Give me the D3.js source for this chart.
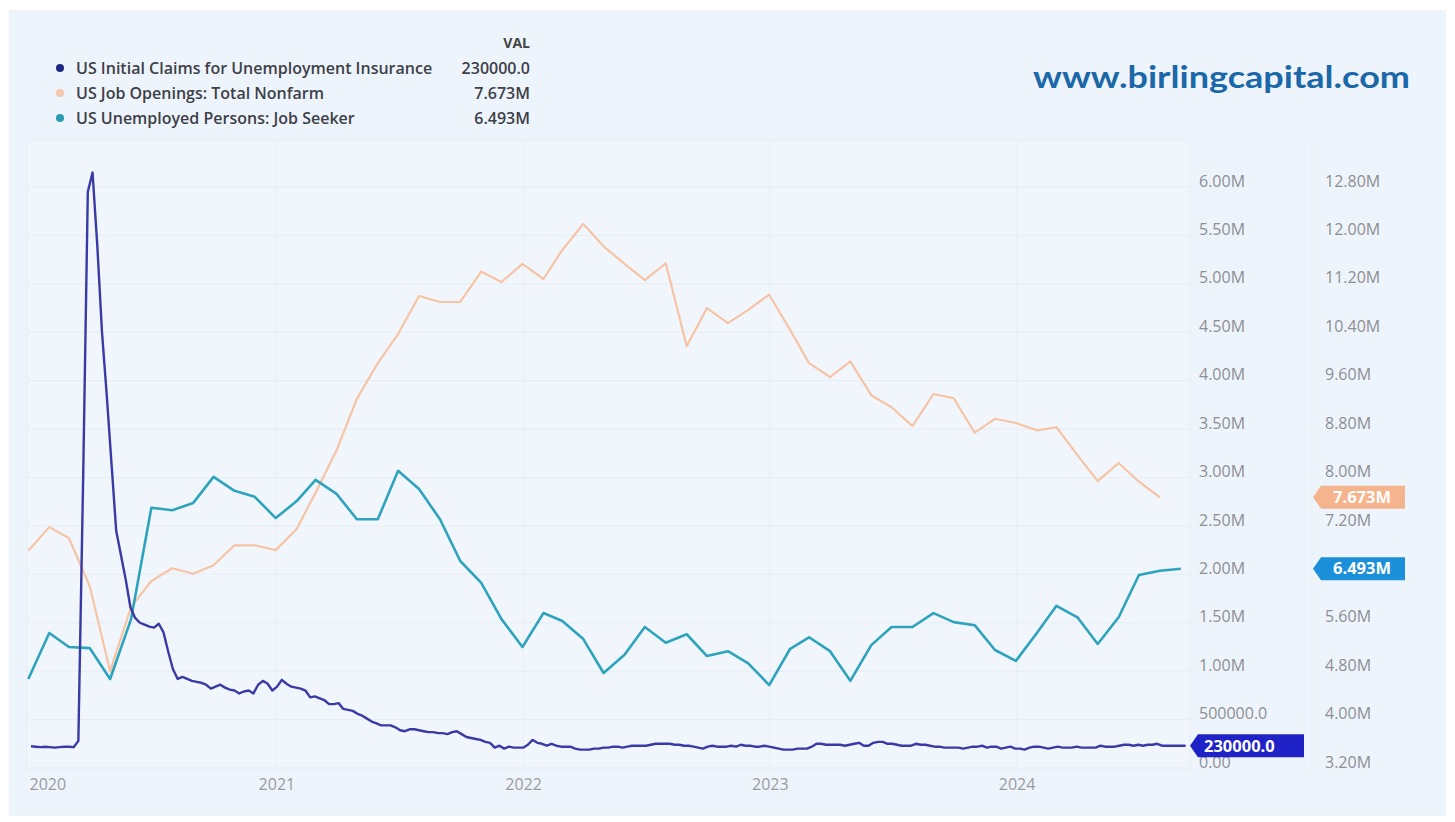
<!DOCTYPE html>
<html><head><meta charset="utf-8">
<script src="https://cdn.jsdelivr.net/npm/d3@7"></script>
<style>
body{margin:0;background:#ffffff;}
svg{display:block;font-family:"Open Sans",Roboto,"Noto Sans",Arial,sans-serif;}
</style>
</head><body>
<svg id="chart" width="1455" height="822"></svg>
<script>
// ---------------- DATA ----------------
const seriesNames = [
  "US Initial Claims for Unemployment Insurance",
  "US Job Openings: Total Nonfarm",
  "US Unemployed Persons: Job Seeker"
];
const legendValues = ["230000.0", "7.673M", "6.493M"];
const yearLabels = ["2020", "2021", "2022", "2023", "2024"];
const leftTickValues = [0, 0.5, 1, 1.5, 2, 2.5, 3, 3.5, 4, 4.5, 5, 5.5, 6];
const leftTickLabels = ["0.00","500000.0","1.00M","1.50M","2.00M","2.50M","3.00M","3.50M","4.00M","4.50M","5.00M","5.50M","6.00M"];
const rightTickValues = [3.2, 4.0, 4.8, 5.6, 6.4, 7.2, 8.0, 8.8, 9.6, 10.4, 11.2, 12.0, 12.8];
const rightTickLabels = ["3.20M","4.00M","4.80M","5.60M","","7.20M","8.00M","8.80M","9.60M","10.40M","11.20M","12.00M","12.80M"];

// Weekly initial claims (millions), weeks ending Saturday, starting 2020-01-04
const claims2020 = [0.225,0.22,0.215,0.22,0.215,0.21,0.215,0.22,0.22,0.215,
  0.28,2.95,5.95,6.15,5.4,4.5,3.85,3.15,2.45,2.2,1.95,1.66,1.55,1.5,1.48,1.46,
  1.45,1.49,1.40,1.20,1.02,0.92,0.94,0.92,0.90,0.89,0.88,0.86,0.82,0.84,0.86,0.83,
  0.81,0.80,0.77,0.79,0.80,0.77,0.86,0.90,0.87,0.80];
const claims2021 = [0.84,0.91,0.87,0.84,0.83,0.82,0.80,0.73,0.74,0.72,0.70,0.66,0.66,
  0.67,0.61,0.60,0.59,0.56,0.54,0.51,0.48,0.46,0.44,0.44,0.44,0.42,0.39,0.38,0.40,0.40,
  0.39,0.38,0.37,0.37,0.36,0.36,0.35,0.37,0.38,0.35,0.32,0.31,0.30,0.29,0.27,0.26,0.21,
  0.23,0.20,0.22,0.21,0.21];
const claims2022 = [0.21,0.24,0.29,0.26,0.25,0.23,0.25,0.23,0.22,0.22,0.22,0.20,0.19,
  0.19,0.19,0.20,0.20,0.21,0.21,0.22,0.22,0.21,0.22,0.23,0.23,0.23,0.23,0.24,0.25,0.25,
  0.25,0.25,0.24,0.24,0.23,0.23,0.22,0.21,0.20,0.22,0.23,0.22,0.22,0.22,0.23,0.22,0.24,
  0.23,0.23,0.22,0.22,0.23,0.22];
const claims2023 = [0.21,0.20,0.19,0.19,0.19,0.20,0.20,0.20,0.22,0.25,0.25,0.24,0.24,
  0.24,0.24,0.23,0.24,0.25,0.26,0.23,0.23,0.26,0.27,0.27,0.25,0.25,0.24,0.23,0.23,0.23,
  0.25,0.24,0.24,0.23,0.22,0.22,0.21,0.21,0.21,0.21,0.20,0.21,0.22,0.22,0.23,0.21,0.22,
  0.22,0.20,0.21,0.22,0.20];
const claims2024 = [0.20,0.19,0.21,0.22,0.22,0.21,0.20,0.21,0.22,0.21,0.21,0.21,0.22,
  0.21,0.21,0.21,0.21,0.23,0.22,0.22,0.22,0.23,0.24,0.24,0.23,0.24,0.23,0.24,0.24,0.25,
  0.23,0.23,0.23,0.23,0.23,0.23];

// Monthly (month-end), job openings Dec 2019 .. Jul 2024 (millions)
const jobOpenings = [6.79,
  7.18,7.00,6.20,4.80,5.86,6.29,6.50,6.41,6.55,6.88,6.88,6.80,
  7.15,7.75,8.45,9.30,9.89,10.37,11.00,10.90,10.90,11.40,11.23,11.53,
  11.28,11.76,12.19,11.82,11.53,11.26,11.54,10.17,10.80,10.55,10.77,11.02,
  10.44,9.89,9.66,9.92,9.36,9.16,8.85,9.38,9.31,8.74,8.97,8.90,
  8.78,8.83,8.37,7.94,8.24,7.93,7.673];
// Monthly (month-end), unemployed job seekers Dec 2019 .. Aug 2024 (millions)
const jobSeekers = [4.67,
  5.43,5.20,5.18,4.67,5.66,7.50,7.46,7.58,8.01,7.78,7.68,7.33,
  7.61,7.96,7.73,7.31,7.31,8.11,7.81,7.31,6.62,6.26,5.66,5.20,
  5.76,5.63,5.33,4.77,5.07,5.53,5.27,5.41,5.05,5.13,4.93,4.57,
  5.17,5.36,5.13,4.64,5.23,5.53,5.53,5.76,5.61,5.56,5.15,4.97,
  5.43,5.88,5.69,5.25,5.69,6.39,6.46,6.493];

const colors = {claims:"#3a3aa6", openings:"#f6c4a4", seekers:"#2ea3bd"};
const dotColors = ["#1c2684", "#f5c8ab", "#2a9ab3"];
const tagColors = ["#1f22c6", "#f5b48d", "#1b8fd8"];

// ---------------- BUILD ----------------
const claimsValues = [].concat(claims2020, claims2021, claims2022, claims2023, claims2024);
const firstWeek = new Date(2020, 0, 4);
const claims = claimsValues.map((v, i) => ({date: d3.timeDay.offset(firstWeek, 7 * i), v}));
const monthEnd = i => d3.timeDay.offset(d3.timeMonth.offset(new Date(2020, 0, 1), i), -1);
const openings = jobOpenings.map((v, i) => ({date: monthEnd(i), v}));
const seekers = jobSeekers.map((v, i) => ({date: monthEnd(i), v}));

const svg = d3.select("#chart");
const P = {left: 27, right: 1190, top: 140, bottom: 770};

svg.append("rect").attr("x", 9).attr("y", 10).attr("width", 1437).attr("height", 806).attr("fill", "#eef4fb");
svg.append("rect").attr("x", P.left).attr("y", P.top).attr("width", P.right - P.left).attr("height", P.bottom - P.top)
  .attr("fill", "#f1f6fc").attr("stroke", "#e6edf5");

const x = d3.scaleTime().domain([new Date(2020, 0, 1), new Date(2025, 0, 1)]).range([29, 1264]);
const yL = d3.scaleLinear().domain([0, 6]).range([768, 187]);
const yR = d3.scaleLinear().domain([3.2, 12.8]).range([768, 187]);

// gridlines
svg.append("g").selectAll("line").data(leftTickValues).join("line")
  .attr("x1", P.left).attr("x2", P.right).attr("y1", d => yL(d)).attr("y2", d => yL(d))
  .attr("stroke", "#e6edf5").attr("stroke-width", 1);
const yearDates = yearLabels.map(y => new Date(+y, 0, 1));
svg.append("g").selectAll("line").data(yearDates.slice(1)).join("line")
  .attr("x1", d => x(d)).attr("x2", d => x(d)).attr("y1", P.top).attr("y2", P.bottom)
  .attr("stroke", "#e9eff6").attr("stroke-width", 1);
svg.append("line").attr("x1", 1312).attr("x2", 1312).attr("y1", P.top).attr("y2", P.bottom).attr("stroke", "#e9eff6");

// axes
const leftAxis = d3.axisRight(yL).tickValues(leftTickValues).tickFormat((d, i) => leftTickLabels[i]).tickSize(0).tickPadding(0);
const gL = svg.append("g").attr("transform", "translate(1199,0)").call(leftAxis);
const rightAxis = d3.axisRight(yR).tickValues(rightTickValues).tickFormat((d, i) => rightTickLabels[i]).tickSize(0).tickPadding(0);
const gR = svg.append("g").attr("transform", "translate(1325,0)").call(rightAxis);
[gL, gR].forEach(g => {
  g.select(".domain").remove();
  g.selectAll("text").attr("fill", "#8d8f94").attr("font-size", 16).attr("dy", "0.32em")
    .attr("transform", "translate(0,-6)").attr("font-family", "'Open Sans', sans-serif");
});

const xAxis = d3.axisBottom(x).tickValues(yearDates).tickFormat((d, i) => yearLabels[i]).tickSize(0).tickPadding(0);
const gX = svg.append("g").attr("transform", "translate(0,779)").call(xAxis);
gX.select(".domain").remove();
gX.selectAll("text").attr("fill", "#9a9ca1").attr("font-size", 16).attr("font-family", "'Open Sans', sans-serif");
gX.selectAll(".tick").filter((d, i) => i === 0).select("text").attr("text-anchor", "start");

// lines
svg.append("clipPath").attr("id", "clip").append("rect")
  .attr("x", P.left).attr("y", P.top - 20).attr("width", P.right - P.left).attr("height", P.bottom - P.top + 20);
const plot = svg.append("g").attr("clip-path", "url(#clip)");
const lineL = d3.line().x(d => x(d.date)).y(d => yL(d.v));
const lineR = d3.line().x(d => x(d.date)).y(d => yR(d.v));
plot.append("path").datum(openings).attr("d", lineR).attr("fill", "none").attr("stroke", colors.openings)
  .attr("stroke-width", 2.2).attr("stroke-linejoin", "round");
plot.append("path").datum(seekers).attr("d", lineR).attr("fill", "none").attr("stroke", colors.seekers)
  .attr("stroke-width", 2.6).attr("stroke-linejoin", "round");
plot.append("path").datum(claims).attr("d", lineL).attr("fill", "none").attr("stroke", colors.claims)
  .attr("stroke-width", 2.4).attr("stroke-linejoin", "round");

// value tags
function tag(tipX, bodyEnd, cy, fill, label, anchor, textX) {
  const h = 23, w = 8;
  const pts = [[tipX, cy], [tipX + w, cy - h / 2], [bodyEnd, cy - h / 2], [bodyEnd, cy + h / 2], [tipX + w, cy + h / 2]];
  svg.append("polygon").attr("points", pts.map(p => p.join(",")).join(" ")).attr("fill", fill);
  svg.append("text").attr("x", textX).attr("y", cy).attr("dy", "0.35em").attr("text-anchor", anchor)
    .attr("fill", "#ffffff").attr("font-weight", 700).attr("font-size", 16.5).text(label);
}
tag(1190, 1304, yL(claims[claims.length - 1].v), tagColors[0], legendValues[0], "start", 1204);
tag(1313, 1405, yR(openings[openings.length - 1].v), tagColors[1], legendValues[1], "middle", 1362);
tag(1313, 1405, yR(seekers[seekers.length - 1].v), tagColors[2], legendValues[2], "middle", 1362);

// legend
const lg = svg.append("g");
lg.append("text").attr("x", 530).attr("y", 43).attr("dy", "0.35em").attr("text-anchor", "end")
  .attr("font-weight", 700).attr("font-size", 14).attr("fill", "#444").text("VAL");
seriesNames.forEach((name, i) => {
  const cy = 68 + i * 25;
  lg.append("circle").attr("cx", 60).attr("cy", cy).attr("r", 4).attr("fill", dotColors[i]);
  lg.append("text").attr("x", 76).attr("y", cy).attr("dy", "0.35em").attr("font-size", 16)
    .attr("font-weight", 600).attr("fill", "#3d4048").text(name);
  lg.append("text").attr("x", 530).attr("y", cy).attr("dy", "0.35em").attr("text-anchor", "end")
    .attr("font-size", 16).attr("font-weight", 600).attr("fill", "#3d4048").text(legendValues[i]);
});

// watermark
svg.append("text").attr("x", 1033).attr("y", 77).attr("dy", "0.35em")
  .attr("font-family", "Lato, 'Open Sans', sans-serif").attr("font-weight", 700).attr("font-size", 31)
  .attr("fill", "#1b68a8").attr("textLength", 377).attr("lengthAdjust", "spacingAndGlyphs")
  .text("www.birlingcapital.com");
</script>
</body></html>
